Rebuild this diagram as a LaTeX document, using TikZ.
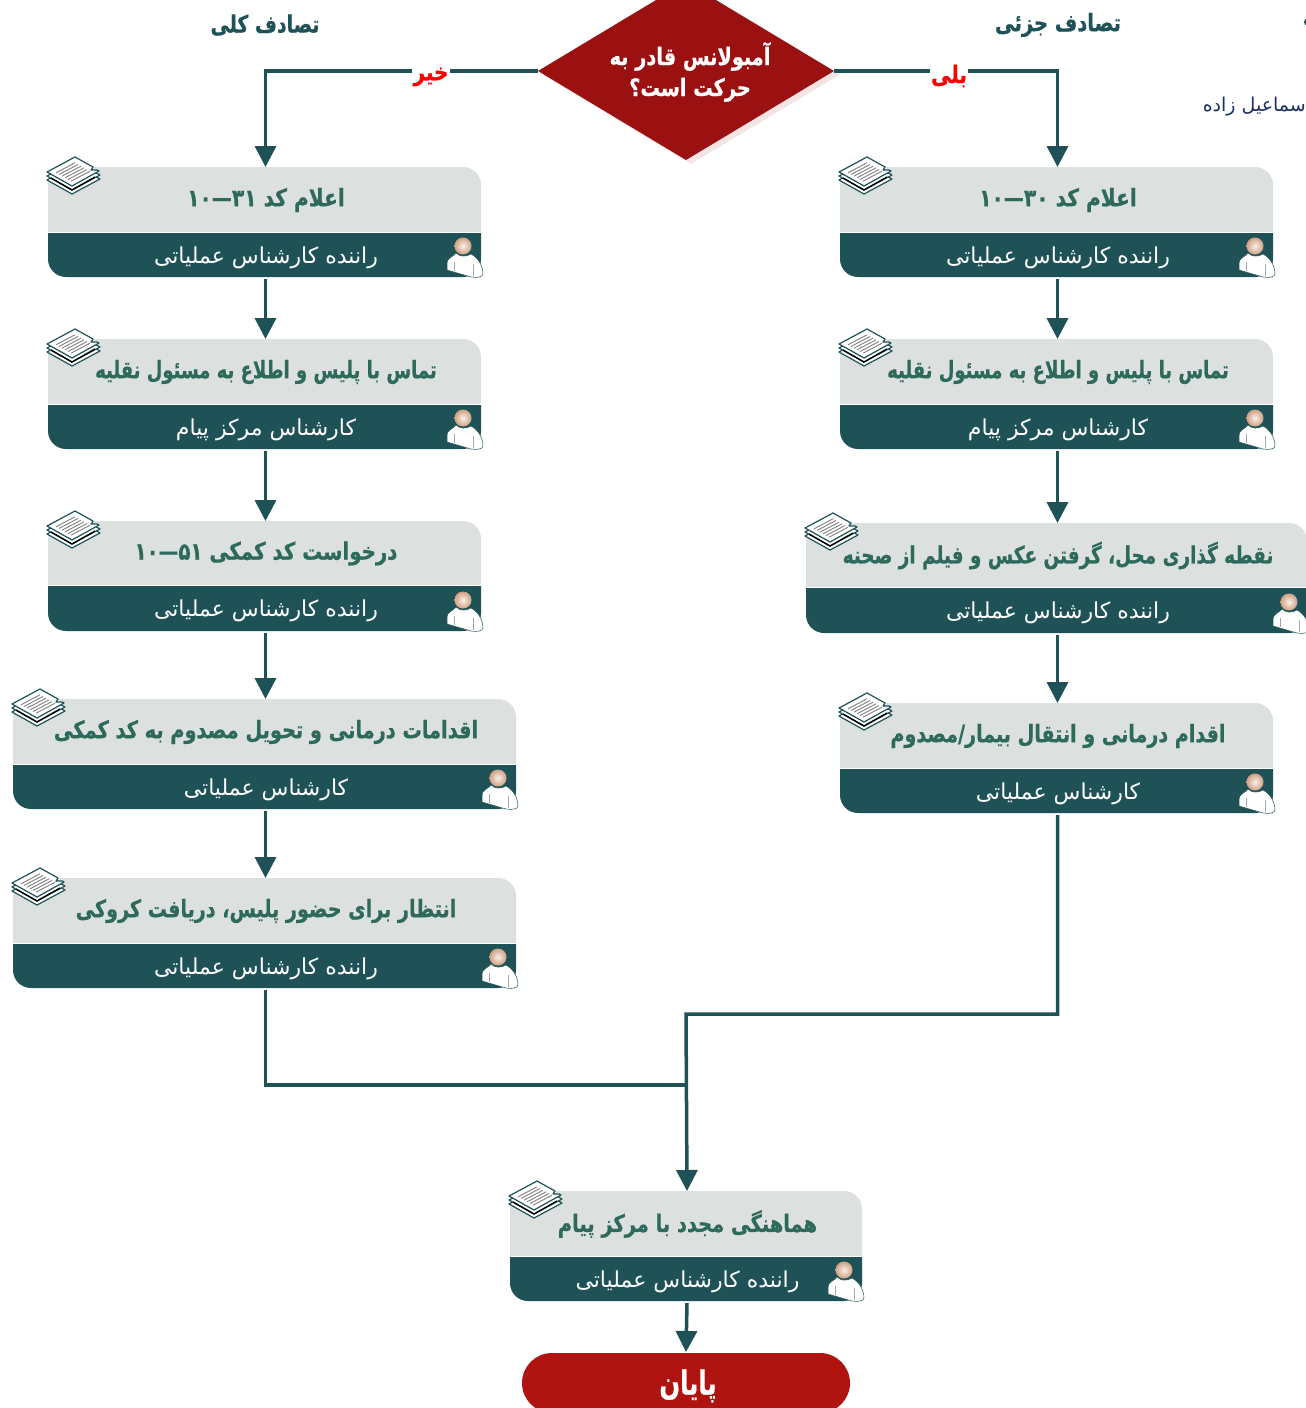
\documentclass[tikz,border=0pt]{standalone}
\usepackage{fontspec}
\usepackage{graphicx}
\usetikzlibrary{arrows.meta,shapes.geometric}
\TeXXeTstate=1
\newfontfamily\fa[Script=Arabic]{DejaVu Sans}
\newfontfamily\faH[Script=Arabic,FakeBold=0.7]{DejaVu Sans Bold}
\definecolor{tealdark}{HTML}{1F5257}
\definecolor{cardgray}{HTML}{DCE0DF}
\definecolor{titlegreen}{HTML}{2D6A5C}
\definecolor{diared}{HTML}{9B1010}
\definecolor{endred}{HTML}{B01410}
\definecolor{shadowpink}{HTML}{F5E4E4}
\definecolor{navytext}{HTML}{1B2F66}
\definecolor{headin}{HTML}{FBF1EA}
\definecolor{headout}{HTML}{CFA082}
\newcommand\ttl[3][1.14]{\scalebox{#2}[#1]{#3}}
\tikzset{
  cardframe/.style={inner sep=0pt,outer sep=1pt,rectangle},
  cardtitle/.style={text=titlegreen,font=\faH\fontsize{21}{24}\selectfont,inner sep=0pt},
  cardrole/.style={text=white,font=\fa\fontsize{22}{26}\selectfont,inner sep=0pt},
  headtext/.style={text=tealdark,font=\faH\fontsize{21}{24}\selectfont,inner sep=0pt},
  yesno/.style={text=red,fill=white,font=\faH\fontsize{20}{24}\selectfont,inner sep=1pt,minimum width=36pt},
  flow/.style={draw=tealdark,line width=3.5pt},
  flowarrow/.style={flow,-{Triangle[width=21pt,length=21pt]}},
  stackicon/.pic={
    \foreach \dy/\col in {8/tealdark,4/tealdark}{
      \filldraw[fill=white,draw=\col,line width=1.2pt,line join=round]
        (-26,-4+\dy)--(2,-19+\dy)--(27,-5+\dy)--(-1,10+\dy)--cycle;
    }
    \draw[black,line width=1.4pt] (-22,2)--(-1,14)--(22,1);
    \filldraw[fill=white,draw=tealdark,line width=1.2pt,line join=round]
      (-26,-4)--(2,-19)--(20,-9)--(18,-6)--(24,-6)--(26,-5)--(-1,10)--cycle;
    \foreach \s in {.2,.32,.44,.56,.68,.8}{
      \draw[gray,line width=0.9pt] (-22+25*\s,-6+14*\s)--(-3+25*\s,-16+14*\s);
    }
  },
  personicon/.pic={
    \filldraw[fill=white,draw=tealdark,line width=0.5pt,line join=round]
      (-7,7) .. controls (-10,11) and (-16,12) .. (-16,17) -- (-16,24) -- (8,31)
      .. controls (14,32) and (20,31) .. (20,28) .. controls (20,22) and (17,13) .. (8,8)
      .. controls (3,11) and (-3,11) .. (-7,7);
    \draw[gray!70,line width=0.8pt] (-9,16)--(-9,25) (10,18)--(10,30);
    \shade[inner color=headin,outer color=headout] (0,0) ellipse [x radius=8.5pt,y radius=8.5pt];
  }
}
\newcommand\card[8]{%
  \pgfmathsetlengthmacro\cw{#3-#2}%
  \pgfmathsetlengthmacro\ch{#6-#4}%
  \pgfmathsetmacro\cx{(#2+#3)/2+1.5}%
  \pgfmathsetmacro\ty{(#4+#5)/2+0.5}%
  \pgfmathsetmacro\ry{(#5+#6)/2+3}%
  \pgfmathsetmacro\sx{#2+25}%
  \pgfmathsetmacro\sy{#4-10+19}%
  \pgfmathsetmacro\px{#3-18}%
  \pgfmathsetmacro\py{#6-31}%
  \pgfmathsetmacro\sa{#5-0.5}%
  \pgfmathsetmacro\sb{#5+1}%
  \begin{scope}
    \clip (#2,#4) rectangle (#3,\sa);
    \fill[cardgray,rounded corners=18pt] (#2,#4) rectangle (#3,#6);
  \end{scope}
  \begin{scope}
    \clip (#2,\sb) rectangle (#3,#6);
    \fill[tealdark,rounded corners=18pt] (#2,#4) rectangle (#3,#6);
  \end{scope}
  \node[cardframe,minimum width=\cw,minimum height=\ch,anchor=north west] (#1) at (#2,#4) {};
  \node[cardtitle] (#1t) at (\cx,\ty) {#7};
  \node[cardrole] (#1r) at (\cx,\ry) {#8};
  \pic at (\sx,\sy) {stackicon};
  \pic at (\px,\py) {personicon};
}
\begin{document}
\begin{tikzpicture}[x=1pt,y=-1pt]
\clip (0,0) rectangle (1306,1408);
\fill[white] (0,0) rectangle (1306,1408);

% decision
\node[diamond,fill=shadowpink,minimum width=296pt,minimum height=178pt,inner sep=0pt,outer sep=0pt,shape aspect=1.663] (ds) at (691,75) {};
\node[diamond,fill=diared,minimum width=296pt,minimum height=178pt,inner sep=0pt,outer sep=0pt,shape aspect=1.663] (dia) at (686,71) {};
\node[text=white,font=\faH\fontsize{21}{31}\selectfont,align=center,inner sep=0pt] (diat) at (690,72) {\ttl{0.92}{\beginR آمبولانس قادر به\endR}\\\ttl{0.92}{\beginR حرکت است؟\endR}};

\node[headtext] (hl) at (265,25) {\ttl{0.9}{\beginR تصادف کلی\endR}};
\node[headtext] (hr) at (1058,25) {\ttl{0.925}{\beginR تصادف جزئی\endR}};
\node[text=navytext,font=\fa\fontsize{19}{22}\selectfont,anchor=east,inner sep=0pt] (name) at (1306,107) {\beginR سماعیل زاده\endR};
\fill[tealdark] (1308,22) circle[radius=4pt];

% cards
\card{la}{48}{481}{167}{232}{277}{\ttl{0.96}{\beginR اعلام کد \beginL ۳۱—۱۰\endL\endR}}{\beginR راننده کارشناس عملیاتی\endR}
\card{lb}{48}{481}{339}{404}{449}{\ttl{0.857}{\beginR تماس با پلیس و اطلاع به مسئول نقلیه\endR}}{\beginR کارشناس مرکز پیام\endR}
\card{lc}{48}{481}{521}{585}{631}{\ttl{0.94}{\beginR درخواست کد کمکی \beginL ۵۱—۱۰\endL\endR}}{\beginR راننده کارشناس عملیاتی\endR}
\card{ld}{13}{516}{699}{764}{809}{\ttl{0.92}{\beginR اقدامات درمانی و تحویل مصدوم به کد کمکی\endR}}{\beginR کارشناس عملیاتی\endR}
\card{le}{13}{516}{878}{943}{988}{\ttl{0.91}{\beginR انتظار برای حضور پلیس، دریافت کروکی\endR}}{\beginR راننده کارشناس عملیاتی\endR}
\card{ra}{840}{1273}{167}{232}{277}{\ttl{0.96}{\beginR اعلام کد \beginL ۳۰—۱۰\endL\endR}}{\beginR راننده کارشناس عملیاتی\endR}
\card{rb}{840}{1273}{339}{404}{449}{\ttl{0.857}{\beginR تماس با پلیس و اطلاع به مسئول نقلیه\endR}}{\beginR کارشناس مرکز پیام\endR}
\card{rc}{806}{1307}{523}{587}{633}{\ttl{0.876}{\beginR نقطه گذاری محل، گرفتن عکس و فیلم از صحنه\endR}}{\beginR راننده کارشناس عملیاتی\endR}
\card{rd}{840}{1273}{703}{768}{813}{\ttl{0.91}{\beginR اقدام درمانی و انتقال بیمار/مصدوم\endR}}{\beginR کارشناس عملیاتی\endR}
\card{zz}{510}{862}{1191}{1256}{1301}{\ttl{0.925}{\beginR هماهنگی مجدد با مرکز پیام\endR}}{\beginR راننده کارشناس عملیاتی\endR}

% end
\node[rectangle,rounded corners=30pt,fill=endred,minimum width=328pt,minimum height=60pt,inner sep=0pt,outer sep=1pt,anchor=north] (fin) at (686,1352) {};
\node[text=white,font=\faH\fontsize{30}{34}\selectfont,inner sep=0pt] (fint) at (688,1386) {\ttl[1.1]{0.81}{\beginR پایان\endR}};

% connectors
\draw[flowarrow] (dia.west) -| (la.north);
\draw[flowarrow] (dia.east) -| (ra.north);
\draw[flowarrow] (la.south) -- (lb.north);
\draw[flowarrow] (lb.south) -- (lc.north);
\draw[flowarrow] (lc.south) -- (ld.north);
\draw[flowarrow] (ld.south) -- (le.north);
\draw[flowarrow] (ra.south) -- (rb.north);
\draw[flowarrow] (rb.south) -- (rc.north);
\draw[flowarrow] (rc.south) -- (rd.north);
\coordinate (mr) at (686,1014);
\coordinate (ml) at (686,1085);
\draw[flow] (le.south) |- (ml);
\draw[flowarrow] (rd.south) |- (mr) -- (zz.north);
\draw[flowarrow] (zz.south) -- (fin.north);

\node[yesno] (no) at (431,77) {\ttl[1.2]{1}{\beginR خیر\endR}};
\node[yesno] (yes) at (949,76) {\ttl[1.2]{1}{\beginR بلی\endR}};
\end{tikzpicture}
\end{document}
